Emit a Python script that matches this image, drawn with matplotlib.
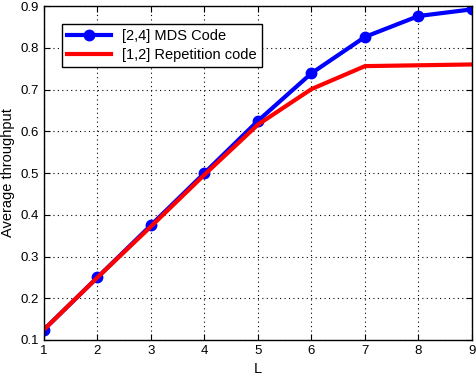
import matplotlib
matplotlib.use('Agg')
import matplotlib.pyplot as plt

plt.rcParams['font.family'] = ['Liberation Sans', 'DejaVu Sans']

L = [1, 2, 3, 4, 5, 6, 7, 8, 9]
mds_code = [0.125, 0.25, 0.375, 0.5, 0.625, 0.739, 0.826, 0.876, 0.892]
repetition_code = [0.125, 0.25, 0.372, 0.496, 0.616, 0.701, 0.756, 0.758, 0.760]

fig = plt.figure(figsize=(4.77, 3.81), dpi=100)
ax = fig.add_axes([44 / 477, 41 / 381, 428 / 477, 334 / 381])

ax.plot(L, mds_code, color='#0000ff', lw=3, marker='o', ms=7.5, label='[2,4] MDS Code')
ax.plot(L, repetition_code, color='#ff0000', lw=3, label='[1,2] Repetition code')

ax.set_xlim(1, 9)
ax.set_ylim(0.1, 0.9)
ax.set_xticks(L)
ax.set_yticks([0.1, 0.2, 0.3, 0.4, 0.5, 0.6, 0.7, 0.8, 0.9])
ax.set_yticklabels(['0.1', '0.2', '0.3', '0.4', '0.5', '0.6', '0.7', '0.8', '0.9'])
ax.grid(True, color='black', linestyle=(0, (1, 3)), linewidth=0.8)
ax.tick_params(direction='in', top=True, right=True, labelsize=9.5, length=4)
for s in ax.spines.values():
    s.set_linewidth(1)

ax.set_xlabel('L', fontsize=10.5, labelpad=4)
ax.set_ylabel('Average throughput', fontsize=10.5, labelpad=4)

leg = ax.legend(loc='upper left', bbox_to_anchor=(0.042, 0.946), borderaxespad=0,
                fontsize=10.5, fancybox=False, framealpha=1, edgecolor='black',
                handlelength=3, borderpad=0.35, labelspacing=0.35)
leg.get_frame().set_linewidth(1)

fig.savefig('out.png', dpi=100)
